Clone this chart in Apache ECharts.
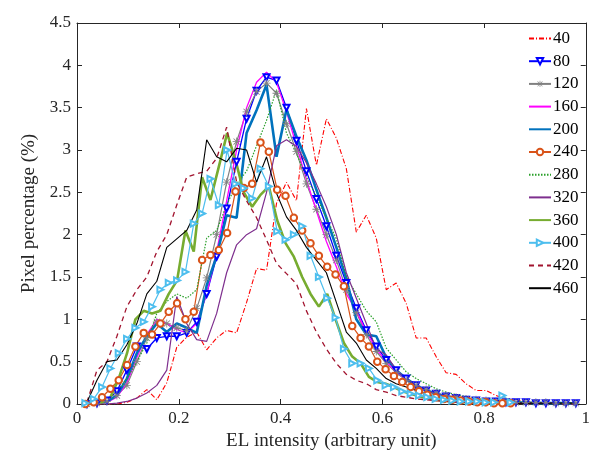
<!DOCTYPE html>
<html><head><meta charset="utf-8">
<script src="https://cdn.jsdelivr.net/npm/echarts@6/dist/echarts.min.js"></script>
<style>html,body{margin:0;padding:0;background:#fff}#c{width:593px;height:461px}</style>
</head><body><div id="c"></div>
<script>
// bin centres (fraction of max intensity) for the two binnings used in the data
const binsA = Array.from({length: 50}, (_, i) => (i + 1) / 51);
const binsB = Array.from({length: 52}, (_, i) => (i + 1) / 61);

const seriesNames = ['40','80','120','160','200','240','280','320','360','400','420','460'];

const s40 = [0,0,0,0,0.02,0.07,0.17,0.05,0.25,0.67,
  0.79,0.85,0.64,0.78,0.87,0.84,1.2,1.6,1.58,2.37,
  2.62,2.4,3.49,2.82,3.37,3.14,2.78,2.03,2.23,1.96,
  1.35,1.43,1.19,0.78,0.78,0.56,0.37,0.35,0.24,0.16,
  0.16,0.1,0.06,0.05,0.03,0.02,0.01,0.01,0.01,0];
const s80 = [0,0.01,0.04,0.15,0.4,0.68,0.65,0.78,0.8,0.8,
  0.84,0.97,1.3,1.74,2.31,2.86,3.37,3.7,3.86,3.82,
  3.5,3.11,2.75,2.42,2.1,1.75,1.43,1.13,0.87,0.68,
  0.52,0.4,0.3,0.22,0.16,0.12,0.09,0.07,0.05,0.04,
  0.03,0.03,0.02,0.02,0.02,0.01,0.01,0.01,0.01,0.01];
const s120 = [0,0.01,0.03,0.1,0.22,0.5,0.78,0.97,0.95,0.9,
  0.87,1.13,1.49,2.0,2.62,3.1,3.45,3.69,3.79,3.67,
  3.31,2.98,2.6,2.3,2.0,1.7,1.35,1.08,0.82,0.62,
  0.48,0.37,0.28,0.22,0.17,0.13,0.1,0.08,0.06,0.05,
  0.04,0.03,0.03,0.02,0.02,0.02,0.02,0.01,0.01,0.01];
const s160 = [0,0,0.02,0.08,0.25,0.55,0.82,1.0,0.95,0.88,
  0.84,0.95,1.3,1.8,2.4,3.0,3.5,3.8,3.92,3.8,
  3.45,3.05,2.65,2.28,1.92,1.62,1.3,1.1,0.85,0.65,
  0.5,0.38,0.29,0.22,0.16,0.12,0.09,0.07,0.05,0.04,
  0.03,0.02,0.02,0.02,0.01,0.01,0.01,0.01,0.01,0];
const s200 = [0,0.01,0.03,0.1,0.3,0.6,0.8,0.95,0.85,0.95,
  0.9,0.84,1.4,1.75,2.23,2.2,3.2,3.47,3.77,2.92,
  3.48,3.16,2.88,2.53,2.2,1.85,1.48,1.0,0.82,0.8,
  0.55,0.4,0.3,0.22,0.16,0.12,0.09,0.07,0.05,0.04,
  0.03,0.02,0.02,0.02,0.01,0.01,0.01,0.01,0.01,0];
const s240 = [0,0.02,0.08,0.18,0.28,0.46,0.68,0.84,0.82,0.95,
  1.09,1.19,1.0,1.09,1.7,1.76,1.82,2.02,2.51,2.55,
  2.6,3.09,2.98,2.53,2.46,2.2,2.05,1.9,1.75,1.62,
  1.53,1.39,0.92,0.78,0.68,0.5,0.41,0.33,0.26,0.2,
  0.15,0.11,0.08,0.06,0.05,0.04,0.03,0.02,0.02,0.01,
  0.01,0.01];
const s280 = [0,0.01,0.05,0.15,0.3,0.5,0.72,1.07,1.21,1.3,
  1.25,1.35,1.96,2.05,2.35,2.6,2.75,3.05,3.35,3.71,
  3.2,2.96,2.68,2.45,2.2,1.95,1.5,1.3,1.1,0.97,
  0.66,0.52,0.38,0.3,0.24,0.18,0.14,0.11,0.09,0.07,
  0.05,0.04,0.03,0.03,0.02,0.02,0.01,0.01,0.01,0.01];
const s320 = [0,0,0,0.01,0.03,0.07,0.13,0.22,0.4,1.27,
  0.95,0.76,0.74,1.07,1.55,1.88,2.0,2.07,2.5,3.05,
  3.12,3.04,2.85,2.6,2.33,2.0,1.55,1.25,0.95,0.65,
  0.58,0.4,0.3,0.22,0.16,0.12,0.09,0.07,0.05,0.04,
  0.03,0.02,0.02,0.01,0.01,0.01,0.01,0.01,0,0];
const s360 = [0,0,0.02,0.08,0.3,0.6,1.0,1.1,1.07,1.1,
  1.3,1.46,2.05,1.8,2.68,2.41,2.8,3.2,2.88,2.5,
  2.33,2.47,2.57,2.17,1.9,1.74,1.5,1.3,1.15,1.3,
  1.0,0.72,0.56,0.48,0.32,0.26,0.24,0.2,0.15,0.12,
  0.09,0.07,0.05,0.04,0.03,0.02,0.02,0.01,0.01,0.01,
  0,0];
const s400 = [0.01,0.06,0.2,0.42,0.6,0.77,0.9,0.97,1.15,1.35,
  1.43,1.46,1.56,2.13,2.25,2.66,2.35,3.0,2.6,2.55,
  2.43,2.78,2.57,2.04,1.94,2.0,2.1,1.75,1.5,1.25,
  1.02,0.65,0.48,0.48,0.42,0.28,0.22,0.2,0.15,0.12,
  0.1,0.08,0.06,0.05,0.04,0.03,0.03,0.03,0.02,0.02,
  0.1,0.02];
const s420 = [0.02,0.4,0.5,0.8,1.15,1.35,1.5,1.8,2.0,2.35,
  2.68,2.72,2.75,2.9,3.27,2.62,2.4,2.2,1.94,1.66,
  1.54,1.42,1.1,0.85,0.65,0.48,0.35,0.28,0.24,0.17,
  0.14,0.1,0.08,0.06,0.05,0.04,0.03,0.02,0.02,0.01,
  0.01,0.01,0.01,0.01,0,0,0,0,0,0];
const s460 = [0.02,0.28,0.5,0.52,0.7,0.95,1.3,1.45,1.85,1.95,
  2.05,2.29,3.12,2.92,2.86,3.02,3.0,2.62,2.92,2.49,
  2.21,2.05,1.85,1.7,1.55,1.2,0.85,0.72,0.52,0.42,
  0.3,0.24,0.2,0.16,0.12,0.09,0.07,0.05,0.04,0.03,
  0.03,0.02,0.02,0.01,0.01,0.01,0.01,0.01,0.01,0.01];

const xTicks = [0, 0.2, 0.4, 0.6, 0.8, 1];
const yTicks = [0, 0.5, 1, 1.5, 2, 2.5, 3, 3.5, 4, 4.5];

const asterisk = 'path://M4.5,0H5.5V10H4.5Z M0,4.5H10V5.5H0Z M0.8,1.5L1.5,0.8L9.2,8.5L8.5,9.2Z M8.5,0.8L9.2,1.5L1.5,9.2L0.8,8.5Z';

const styles = {
  '40':  {c:'#FF0000', w:1.1, t:[5,2,1,2]},
  '80':  {c:'#0000FF', w:1.3, t:'solid', sym:'emptyTriangle', rot:180, sz:6},
  '120': {c:'#808080', w:1.2, t:'solid', sym:asterisk, sz:8},
  '160': {c:'#FF00FF', w:1.3, t:'solid'},
  '200': {c:'#0072BD', w:2.6, t:'solid'},
  '240': {c:'#D95319', w:1.2, t:'solid', sym:'emptyCircle', sz:6.5},
  '280': {c:'#2AA02A', w:1.2, t:[1.5,1.5]},
  '320': {c:'#7E2F8E', w:1.2, t:'solid'},
  '360': {c:'#77AC30', w:2.6, t:'solid'},
  '400': {c:'#4DBEEE', w:1.2, t:'solid', sym:'emptyTriangle', rot:-90, sz:6},
  '420': {c:'#A2142F', w:1.3, t:[5,4]},
  '460': {c:'#000000', w:1.1, t:'solid'}
};
const dataMap = {
  '40':[binsA,s40], '80':[binsA,s80], '120':[binsA,s120], '160':[binsA,s160],
  '200':[binsA,s200], '240':[binsB,s240], '280':[binsA,s280], '320':[binsA,s320],
  '360':[binsB,s360], '400':[binsB,s400], '420':[binsA,s420], '460':[binsA,s460]
};

const series = seriesNames.map(n => {
  const st = styles[n];
  const [xs, ys] = dataMap[n];
  return {
    type: 'line', name: n,
    data: ys.map((y, i) => [xs[i], y]),
    xAxisIndex: 0, yAxisIndex: 0,
    showSymbol: !!st.sym,
    symbol: st.sym || 'circle',
    symbolSize: st.sz || 0,
    symbolRotate: st.rot || 0,
    color: st.c,
    itemStyle: {color: st.c, borderWidth: 1},
    lineStyle: {color: st.c, width: st.w, type: st.t},
    emphasis: {disabled: true},
    animation: false
  };
});

const legendData = seriesNames.map(n => styles[n].sym
  ? {name: n}
  : {name: n, itemStyle: {opacity: 0}});

const serif = '"Liberation Serif", "Times New Roman", serif';
const axCol = '#262626';
const chart = echarts.init(document.getElementById('c'), null, {renderer: 'canvas'});
chart.setOption({
  backgroundColor: '#fff',
  animation: false,
  grid: {left: 77, right: 6, top: 23, bottom: 57, containLabel: false},
  legend: {
    orient: 'vertical', left: 528, top: 30, itemWidth: 22, itemHeight: 8, itemGap: 5.7,
    padding: 0, data: legendData,
    textStyle: {fontFamily: serif, fontSize: 17, color: '#000', padding: [0,0,0,-3]}
  },
  xAxis: [
    {type: 'value', min: xTicks[0], max: xTicks[xTicks.length-1], interval: 0.2, position: 'bottom',
     name: 'EL intensity (arbitrary unit)', nameLocation: 'middle', nameGap: 28,
     nameTextStyle: {fontFamily: serif, fontSize: 19, color: axCol},
     axisLine: {show: true, onZero: false, lineStyle: {color: axCol, width: 1}},
     axisTick: {show: true, inside: true, length: 5, lineStyle: {color: axCol}},
     axisLabel: {fontFamily: serif, fontSize: 17, color: axCol, margin: 6,
       formatter: v => String(+v.toFixed(1))},
     splitLine: {show: false}},
    {type: 'value', min: xTicks[0], max: xTicks[xTicks.length-1], interval: 0.2, position: 'top',
     axisLine: {show: true, onZero: false, lineStyle: {color: axCol, width: 1}},
     axisTick: {show: true, inside: true, length: 5, lineStyle: {color: axCol}},
     axisLabel: {show: false}, splitLine: {show: false}}
  ],
  yAxis: [
    {type: 'value', min: yTicks[0], max: yTicks[yTicks.length-1], interval: 0.5, position: 'left',
     name: 'Pixel percentage (%)', nameLocation: 'middle', nameGap: 34,
     nameTextStyle: {fontFamily: serif, fontSize: 19, color: axCol},
     axisLine: {show: true, onZero: false, lineStyle: {color: axCol, width: 1}},
     axisTick: {show: true, inside: true, length: 5, lineStyle: {color: axCol}},
     axisLabel: {fontFamily: serif, fontSize: 17, color: axCol, margin: 6,
       formatter: v => String(+v.toFixed(1))},
     splitLine: {show: false}},
    {type: 'value', min: yTicks[0], max: yTicks[yTicks.length-1], interval: 0.5, position: 'right',
     axisLine: {show: true, onZero: false, lineStyle: {color: axCol, width: 1}},
     axisTick: {show: true, inside: true, length: 5, lineStyle: {color: axCol}},
     axisLabel: {show: false}, splitLine: {show: false}}
  ],
  series: series
});
</script></body></html>
